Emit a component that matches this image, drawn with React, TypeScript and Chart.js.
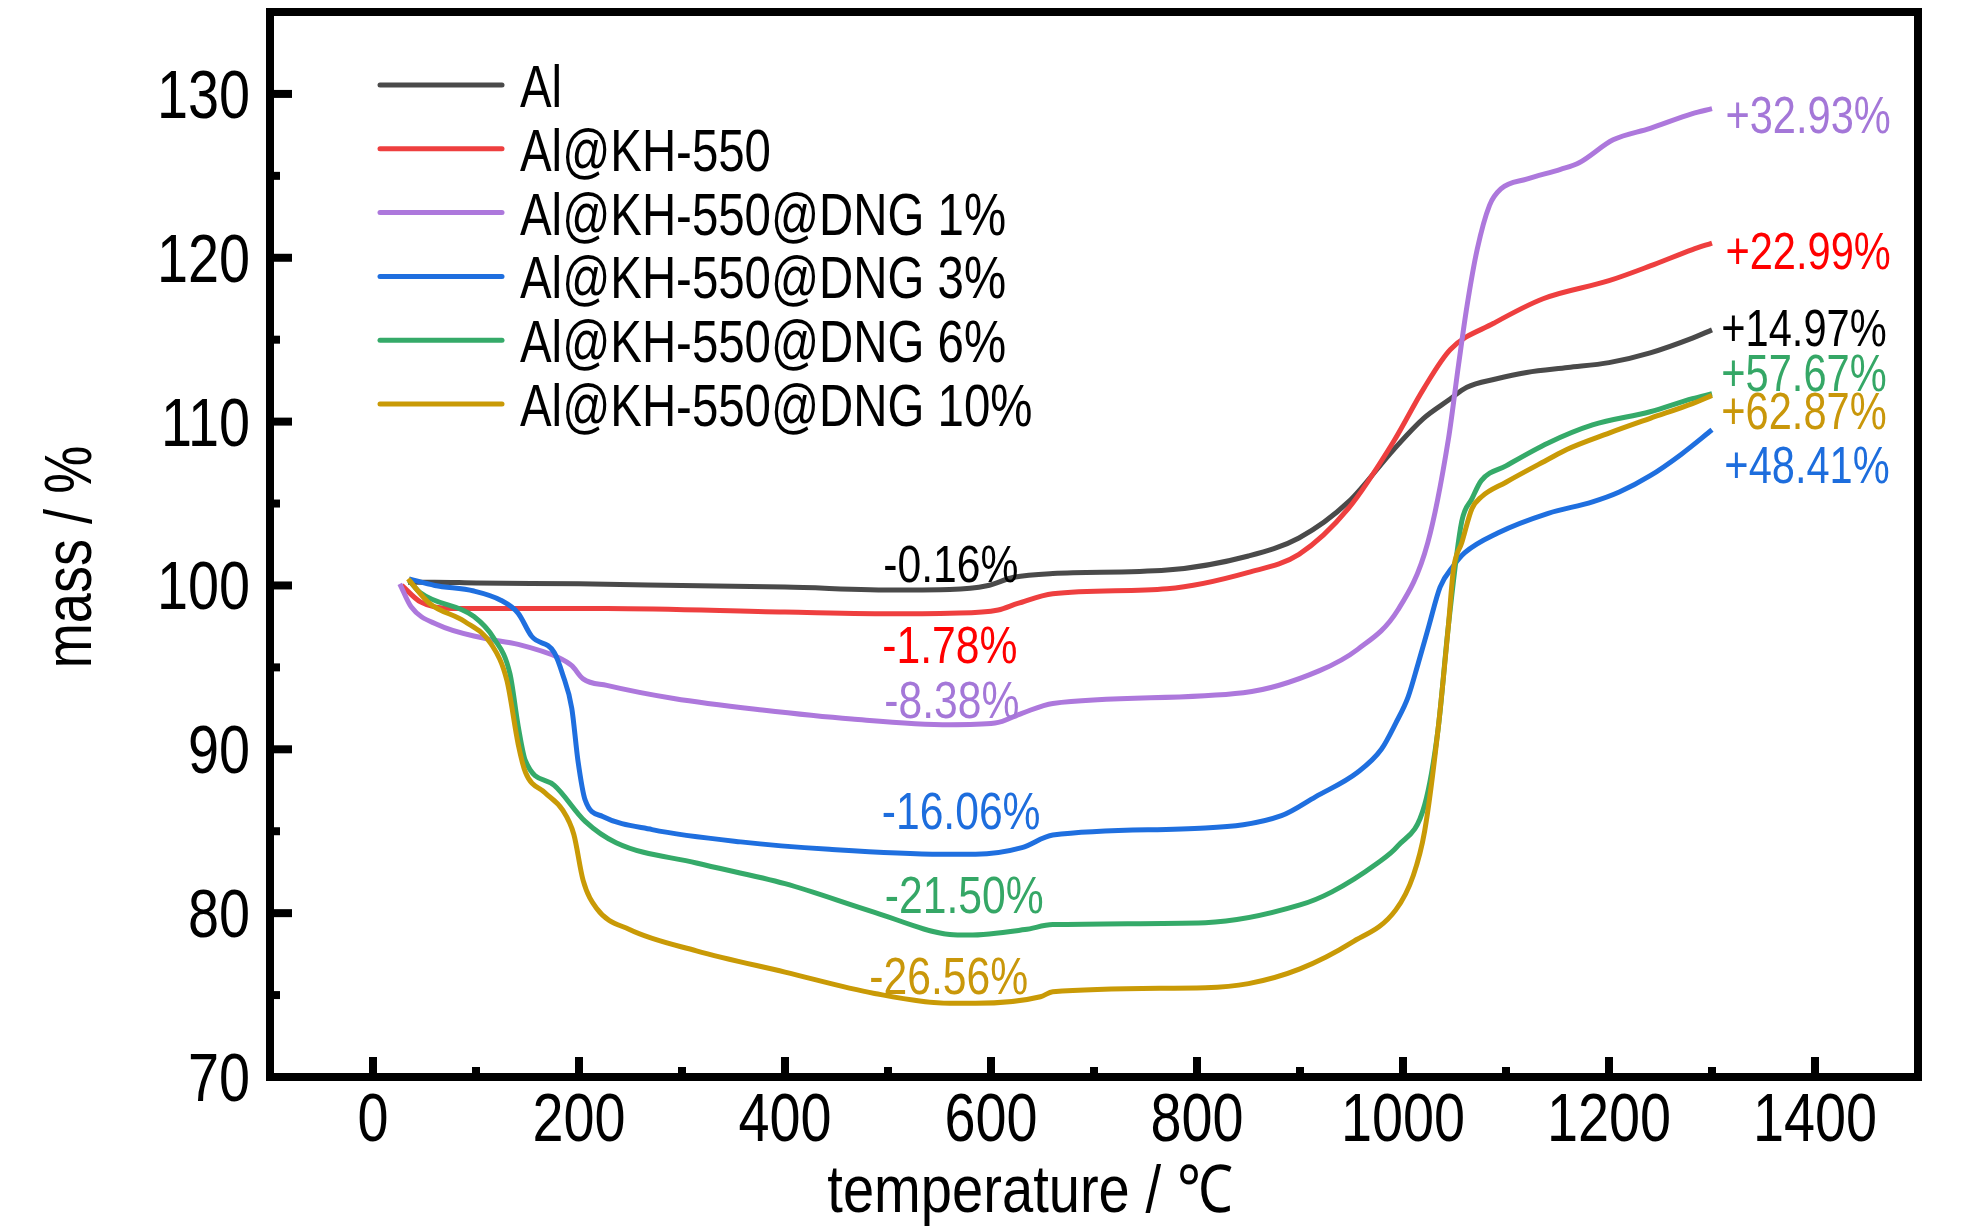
import { useEffect, useRef } from 'react';
import { Chart, registerables } from 'chart.js';

Chart.register(...registerables);

const FONT = "'Liberation Sans', Arial, sans-serif";

const SERIES_NAMES = ['Al', 'Al@KH-550', 'Al@KH-550@DNG 1%', 'Al@KH-550@DNG 3%', 'Al@KH-550@DNG 6%', 'Al@KH-550@DNG 10%'];
const LINE_COLORS = ['#4a4a4a', '#ee3f3f', '#ad78dc', '#1f6fdf', '#35aa69', '#c99a06'];
const TEXT_COLORS = ['#000000', '#ff0000', '#a477d8', '#1d6ddd', '#35a766', '#c9970a'];

const X_TICKS = [0, 200, 400, 600, 800, 1000, 1200, 1400];
const X_MINOR = [100, 300, 500, 700, 900, 1100, 1300];
const Y_TICKS = [70, 80, 90, 100, 110, 120, 130];
const Y_MINOR = [75, 85, 95, 105, 115, 125];

// Al
const AL_T = [34, 60, 100, 200, 300, 400, 511, 560, 596, 622, 660, 771, 850, 899, 947, 991, 1020, 1044, 1062, 1090, 1120, 1160, 1200, 1240, 1281, 1300];
const AL_M = [100.2, 100.2, 100.15, 100.1, 100.0, 99.9, 99.72, 99.75, 99.98, 100.5, 100.73, 100.94, 101.8, 102.9, 105.1, 108.3, 110.2, 111.3, 112.1, 112.6, 113.0, 113.3, 113.6, 114.2, 115.1, 115.6];

// Al@KH-550
const KH_T = [28, 46, 76, 227, 400, 511, 560, 607, 626, 660, 771, 850, 899, 947, 991, 1020, 1046, 1088, 1136, 1200, 1240, 1281, 1300];
const KH_M = [100.0, 99.0, 98.6, 98.6, 98.38, 98.27, 98.3, 98.5, 98.9, 99.5, 99.8, 100.8, 101.9, 104.7, 108.8, 112.0, 114.4, 116.0, 117.5, 118.6, 119.5, 120.5, 120.9];

// Al@KH-550@DNG 1%
const DNG1_T = [26, 37, 63, 106, 141, 180, 193, 204, 227, 292, 378, 465, 560, 604, 630, 660, 845, 919, 956, 995, 1024, 1044, 1054, 1062, 1072, 1084, 1095, 1120, 1153, 1171, 1204, 1240, 1281, 1300];
const DNG1_M = [100.1, 98.7, 97.6, 96.8, 96.4, 95.6, 95.1, 94.3, 93.9, 93.1, 92.4, 91.85, 91.5, 91.6, 92.2, 92.8, 93.45, 94.8, 96.1, 98.5, 102.6, 108.9, 113.5, 117.0, 120.5, 123.2, 124.2, 124.8, 125.4, 125.8, 127.2, 127.9, 128.8, 129.1];

// Al@KH-550@DNG 3%
const DNG3_T = [35, 60, 98, 124, 141, 154, 176, 184, 193, 199, 206, 223, 271, 357, 443, 552, 585, 630, 660, 808, 882, 915, 956, 979, 993, 1005, 1015, 1025, 1036, 1049, 1060, 1092, 1141, 1184, 1210, 1240, 1270, 1300];
const DNG3_M = [100.4, 100.0, 99.66, 99.1, 98.3, 96.9, 95.9, 94.6, 92.5, 89.3, 86.9, 85.9, 85.1, 84.35, 83.9, 83.6, 83.6, 84.0, 84.77, 85.2, 85.95, 87.1, 88.6, 90.0, 91.6, 93.2, 95.3, 97.5, 99.9, 101.2, 102.0, 103.2, 104.4, 105.1, 105.7, 106.7, 108.0, 109.5];

// Al@KH-550@DNG 6%
const DNG6_T = [35, 46, 98, 117, 133, 141, 148, 176, 206, 236, 314, 400, 487, 560, 578, 633, 660, 808, 900, 931, 974, 995, 1021, 1034, 1044, 1057, 1067, 1076, 1100, 1141, 1184, 1240, 1281, 1300];
const DNG6_M = [100.3, 99.55, 98.1, 96.8, 94.6, 91.4, 89.3, 87.8, 85.6, 84.3, 83.06, 81.8, 80.05, 78.7, 78.66, 79.0, 79.3, 79.42, 80.5, 81.3, 83.0, 84.1, 86.6, 91.2, 97.5, 103.9, 105.3, 106.4, 107.3, 108.7, 109.8, 110.6, 111.4, 111.7];

// Al@KH-550@DNG 10%
const DNG10_T = [34, 55, 89, 115, 130, 141, 148, 167, 184, 195, 204, 217, 249, 314, 400, 487, 560, 585, 648, 660, 808, 850, 900, 950, 993, 1010, 1021, 1034, 1044, 1049, 1057, 1067, 1076, 1100, 1141, 1159, 1200, 1240, 1281, 1300];
const DNG10_M = [100.4, 98.9, 97.8, 96.4, 94.2, 90.3, 88.6, 87.35, 86.3, 84.8, 82.0, 80.3, 79.0, 77.7, 76.4, 75.1, 74.5, 74.5, 74.9, 75.2, 75.45, 75.7, 76.6, 78.2, 80.2, 82.3, 85.0, 91.2, 97.5, 101.0, 102.6, 104.7, 105.4, 106.3, 107.7, 108.3, 109.3, 110.2, 111.1, 111.6];

const SERIES_T = [AL_T, KH_T, DNG1_T, DNG3_T, DNG6_T, DNG10_T];
const SERIES_M = [AL_M, KH_M, DNG1_M, DNG3_M, DNG6_M, DNG10_M];

// mass-loss labels (centred) and final mass-gain labels (left aligned), in data units
const LOSS_TEXT = ['-0.16%', '-1.78%', '-8.38%', '-16.06%', '-21.50%', '-26.56%'];
const LOSS_X = [561, 560, 562, 571, 574, 559];
const LOSS_Y = [101.4, 96.4, 93.1, 86.3, 81.15, 76.2];
const GAIN_TEXT = ['+14.97%', '+22.99%', '+32.93%', '+48.41%', '+57.67%', '+62.87%'];
const GAIN_X = [1309, 1313, 1313, 1312, 1309, 1309];
const GAIN_Y = [115.8, 120.5, 128.8, 107.4, 113.0, 110.7];

// the original uses a narrow face, so text is squeezed horizontally
function narrowText(ctx: CanvasRenderingContext2D, text: string, x: number, y: number, align: CanvasTextAlign, sx = 0.82) {
  ctx.save();
  ctx.translate(x, y);
  ctx.scale(sx, 1);
  ctx.textAlign = align;
  ctx.fillText(text, 0, 0);
  ctx.restore();
}

const overlay = {
  id: 'overlay',
  afterDraw(chart: any) {
    const { ctx, chartArea: a, scales } = chart;
    const x = scales.x;
    const y = scales.y;
    ctx.save();
    ctx.strokeStyle = '#000';
    ctx.lineWidth = 8;
    ctx.lineCap = 'butt';
    // inward ticks
    const tickX = (v: number, len: number) => {
      const px = x.getPixelForValue(v);
      ctx.beginPath();
      ctx.moveTo(px, a.bottom);
      ctx.lineTo(px, a.bottom - len);
      ctx.stroke();
    };
    const tickY = (v: number, len: number) => {
      const py = y.getPixelForValue(v);
      ctx.beginPath();
      ctx.moveTo(a.left, py);
      ctx.lineTo(a.left + len, py);
      ctx.stroke();
    };
    X_TICKS.forEach((v) => tickX(v, 20));
    X_MINOR.forEach((v) => tickX(v, 10));
    Y_TICKS.forEach((v) => tickY(v, 22));
    Y_MINOR.forEach((v) => tickY(v, 10));
    ctx.strokeRect(a.left, a.top, a.right - a.left, a.bottom - a.top);

    // tick labels from the scales' own ticks
    ctx.fillStyle = '#000';
    ctx.textBaseline = 'alphabetic';
    ctx.font = `68px ${FONT}`;
    x.ticks.forEach((t: any) => narrowText(ctx, String(t.value), x.getPixelForValue(t.value), 1141, 'center'));
    y.ticks.forEach((t: any) => narrowText(ctx, String(t.value), a.left - 20, y.getPixelForValue(t.value) + 24, 'right'));

    // legend
    ctx.font = `60px ${FONT}`;
    ctx.lineCap = 'round';
    ctx.lineWidth = 5;
    SERIES_NAMES.forEach((name, i) => {
      const cy = 85 + i * 63.8;
      ctx.strokeStyle = LINE_COLORS[i];
      ctx.beginPath();
      ctx.moveTo(380, cy);
      ctx.lineTo(502, cy);
      ctx.stroke();
      ctx.fillStyle = '#000';
      narrowText(ctx, name, 520, cy + 22, 'left', 0.79);
    });

    // annotations
    ctx.font = `52px ${FONT}`;
    LOSS_TEXT.forEach((t, i) => {
      ctx.fillStyle = TEXT_COLORS[i];
      narrowText(ctx, t, x.getPixelForValue(LOSS_X[i]), y.getPixelForValue(LOSS_Y[i]) + 19, 'center');
    });
    GAIN_TEXT.forEach((t, i) => {
      ctx.fillStyle = TEXT_COLORS[i];
      narrowText(ctx, t, x.getPixelForValue(GAIN_X[i]), y.getPixelForValue(GAIN_Y[i]) + 19, 'left', 0.8);
    });

    // axis titles
    ctx.fillStyle = '#000';
    ctx.font = `66px ${FONT}`;
    narrowText(ctx, 'temperature / ℃', 1030, 1212, 'center', 0.85);
    ctx.translate(73, 557);
    ctx.rotate(-Math.PI / 2);
    narrowText(ctx, 'mass / %', 0, 18, 'center');
    ctx.restore();
  },
};

export default function App() {
  const ref = useRef<HTMLCanvasElement>(null);
  useEffect(() => {
    document.body.style.margin = '0';
    if (!ref.current) return;
    const c = new Chart(ref.current, {
      type: 'line',
      data: {
        datasets: SERIES_NAMES.map((name, i) => ({
          label: name,
          data: SERIES_T[i].map((t, j) => ({ x: t, y: SERIES_M[i][j] })),
          borderColor: LINE_COLORS[i],
          borderWidth: 5,
          pointRadius: 0,
          cubicInterpolationMode: 'monotone' as const,
          fill: false,
          order: SERIES_NAMES.length - i,
        })),
      },
      options: {
        responsive: false,
        animation: false,
        devicePixelRatio: 1,
        layout: { padding: { left: 0, top: 12, right: 66, bottom: 0 } },
        scales: {
          x: {
            type: 'linear',
            min: -100,
            max: 1500,
            afterBuildTicks: (s: any) => { s.ticks = X_TICKS.map((v) => ({ value: v })); },
            afterFit: (s: any) => { s.height = 151; },
            grid: { display: false, drawTicks: false },
            border: { display: false },
            ticks: { display: false },
          },
          y: {
            min: 70,
            max: 135,
            afterBuildTicks: (s: any) => { s.ticks = Y_TICKS.map((v) => ({ value: v })); },
            afterFit: (s: any) => { s.width = 270; },
            grid: { display: false, drawTicks: false },
            border: { display: false },
            ticks: { display: false },
          },
        },
        plugins: {
          legend: { display: false },
          tooltip: { enabled: false },
        },
      },
      plugins: [overlay],
    });
    return () => c.destroy();
  }, []);
  return <canvas ref={ref} width={1984} height={1228} style={{ display: 'block' }} />;
}
